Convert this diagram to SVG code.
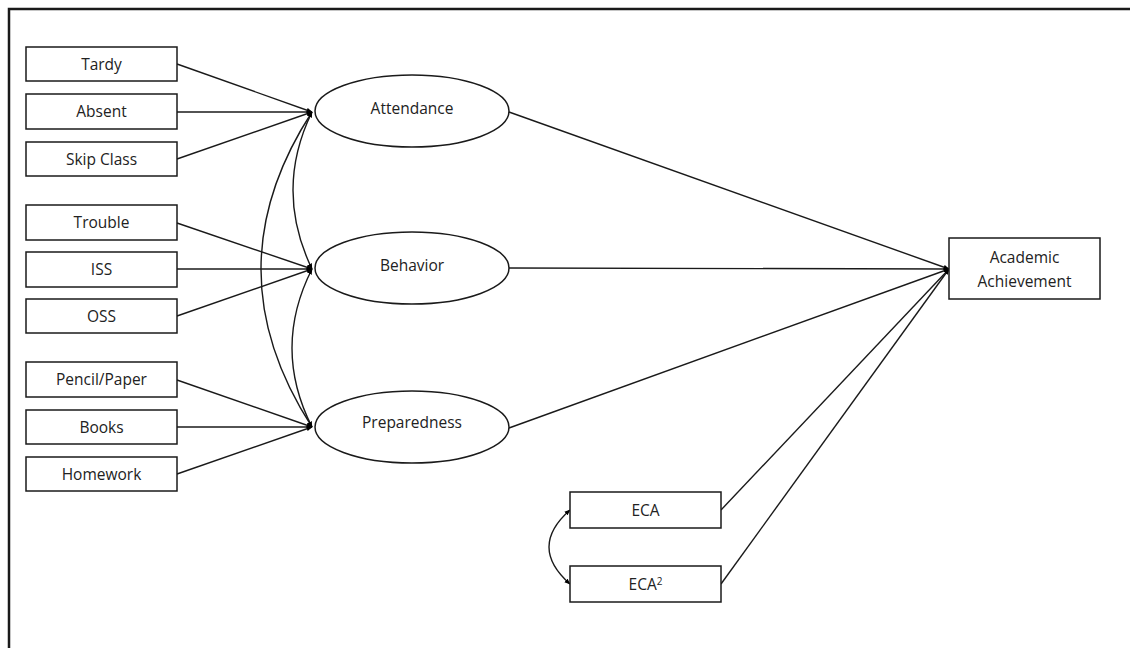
<svg xmlns="http://www.w3.org/2000/svg" width="1130" height="648" viewBox="0 0 1130 648">
<style>
.box{fill:#fff;stroke:#1a1a1a;stroke-width:1.5}
.ell{fill:#fff;stroke:#1a1a1a;stroke-width:1.5}
.t{font-family:"Open Sans","Noto Sans","Liberation Sans",sans-serif;font-size:15.5px;fill:#222;text-anchor:middle}
.c{fill:none;stroke:#1a1a1a;stroke-width:1.4}
</style>
<defs>
<marker id="ah" viewBox="0 0 10 10" refX="9" refY="5" markerWidth="6" markerHeight="6" orient="auto-start-reverse" markerUnits="userSpaceOnUse">
<path d="M0,1 L10,5 L0,9 z" fill="#000"/>
</marker>
</defs>
<rect x="0" y="0" width="1130" height="648" fill="#fff"/>
<path d="M9,648 V9 H1130" fill="none" stroke="#1a1a1a" stroke-width="2.5"/>
<g id="connectors">
<line class="c" x1="177" y1="64" x2="312" y2="112" marker-end="url(#ah)"/>
<line class="c" x1="177" y1="112" x2="312" y2="112" marker-end="url(#ah)"/>
<line class="c" x1="177" y1="159" x2="312" y2="112" marker-end="url(#ah)"/>
<line class="c" x1="177" y1="223" x2="312" y2="269" marker-end="url(#ah)"/>
<line class="c" x1="177" y1="269" x2="312" y2="269" marker-end="url(#ah)"/>
<line class="c" x1="177" y1="316" x2="312" y2="269" marker-end="url(#ah)"/>
<line class="c" x1="177" y1="380" x2="312" y2="427" marker-end="url(#ah)"/>
<line class="c" x1="177" y1="427" x2="312" y2="427" marker-end="url(#ah)"/>
<line class="c" x1="177" y1="474" x2="312" y2="427" marker-end="url(#ah)"/>
<path class="c" d="M312,112 Q274,190 312,269" marker-start="url(#ah)" marker-end="url(#ah)"/>
<path class="c" d="M312,269 Q272,348 312,427" marker-start="url(#ah)" marker-end="url(#ah)"/>
<path class="c" d="M312,112 Q210,269 312,427" marker-start="url(#ah)" marker-end="url(#ah)"/>
<line class="c" x1="509" y1="112" x2="949" y2="269" marker-end="url(#ah)"/>
<line class="c" x1="509" y1="268" x2="949" y2="269" marker-end="url(#ah)"/>
<line class="c" x1="509" y1="428" x2="949" y2="269" marker-end="url(#ah)"/>
<line class="c" x1="721" y1="510" x2="949" y2="269" marker-end="url(#ah)"/>
<line class="c" x1="721" y1="584" x2="949" y2="269" marker-end="url(#ah)"/>
<path class="c" d="M570,510 Q528,547 570,584" marker-start="url(#ah)" marker-end="url(#ah)"/>
</g>
<g id="tardy"><rect class="box" x="26" y="47" width="151" height="34"/><text class="t" x="101.5" y="69.5">Tardy</text></g>
<g id="absent"><rect class="box" x="26" y="94" width="151" height="35"/><text class="t" x="101.5" y="117">Absent</text></g>
<g id="skipclass"><rect class="box" x="26" y="142" width="151" height="34"/><text class="t" x="101.5" y="164.5">Skip Class</text></g>
<g id="trouble"><rect class="box" x="26" y="205" width="151" height="35"/><text class="t" x="101.5" y="228">Trouble</text></g>
<g id="iss"><rect class="box" x="26" y="252" width="151" height="35"/><text class="t" x="101.5" y="275">ISS</text></g>
<g id="oss"><rect class="box" x="26" y="299" width="151" height="34"/><text class="t" x="101.5" y="321.5">OSS</text></g>
<g id="pencilpaper"><rect class="box" x="26" y="362" width="151" height="35"/><text class="t" x="101.5" y="385">Pencil/Paper</text></g>
<g id="books"><rect class="box" x="26" y="410" width="151" height="34"/><text class="t" x="101.5" y="432.5">Books</text></g>
<g id="homework"><rect class="box" x="26" y="457" width="151" height="34"/><text class="t" x="101.5" y="479.5">Homework</text></g>
<g id="attendance"><ellipse class="ell" cx="412" cy="111" rx="97" ry="36"/><text class="t" x="412" y="114">Attendance</text></g>
<g id="behavior"><ellipse class="ell" cx="412" cy="268" rx="97" ry="36"/><text class="t" x="412" y="271">Behavior</text></g>
<g id="preparedness"><ellipse class="ell" cx="412" cy="427" rx="97" ry="36"/><text class="t" x="412" y="428">Preparedness</text></g>
<g id="academic"><rect class="box" x="949" y="238" width="151" height="61"/><text class="t" x="1024.5" y="263">Academic</text><text class="t" x="1024.5" y="287">Achievement</text></g>
<g id="eca"><rect class="box" x="570" y="492" width="151" height="36"/><text class="t" x="645.5" y="515.5">ECA</text></g>
<g id="eca2"><rect class="box" x="570" y="566" width="151" height="36"/><text class="t" x="645.5" y="589.5">ECA<tspan font-size="10" dy="-5">2</tspan></text></g>
</svg>
